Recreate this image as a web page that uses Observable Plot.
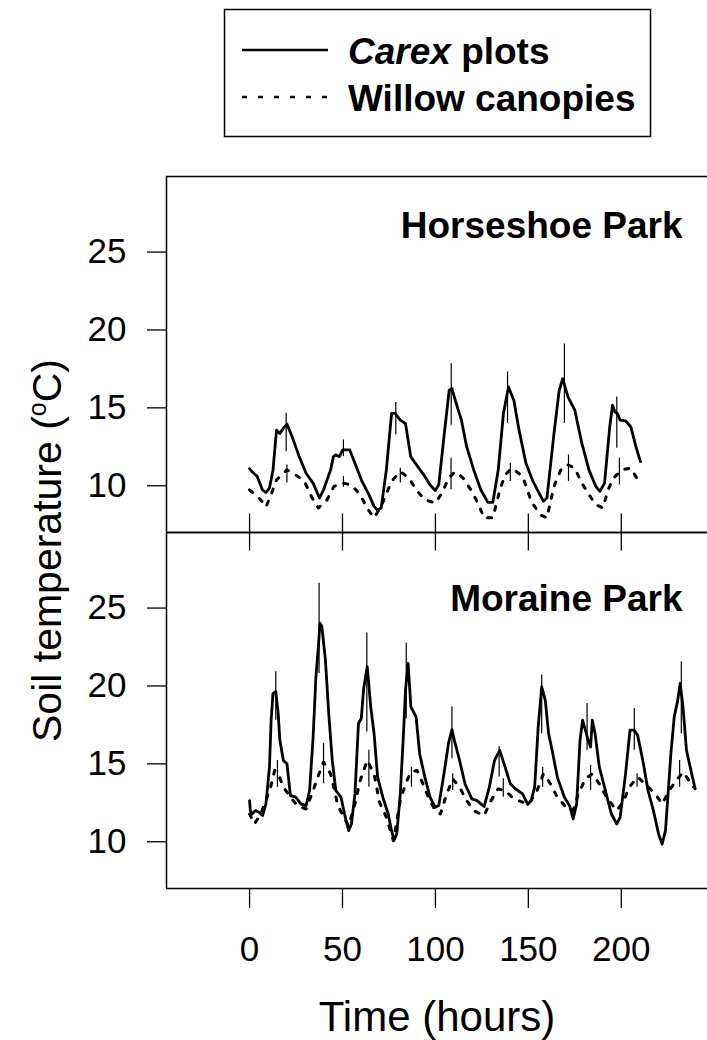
<!DOCTYPE html>
<html><head><meta charset="utf-8">
<script src="https://cdn.jsdelivr.net/npm/d3@7"></script>
<script src="https://cdn.jsdelivr.net/npm/@observablehq/plot@0.6"></script>
<style>
html,body{margin:0;padding:0;background:#fff;overflow:hidden}
svg{display:block}
</style></head><body>
<div id="legend"></div>
<div id="chart"></div>
<script>
const parks = ["Horseshoe Park", "Moraine Park"];
const seriesNames = ["Carex plots", "Willow canopies"];
const xTicks = [0, 50, 100, 150, 200];
const yTicks = [10, 15, 20, 25];
const xDomain = [-44.7, 246.4];
const yDomain = [7, 29.85];
const xLabel = "Time (hours)";
const yLabel = "Soil temperature (oC)";

// [hour, °C]
const horseshoeCarex = [[0,11.1],[1.3,10.9],[4.1,10.6],[6.9,9.74],[8.8,9.57],[10.7,9.85],[12.6,11.0],[14.5,13.57],[16.3,13.36],[18.2,13.7],[20.1,13.96],[22.9,13.15],[26.7,11.87],[30.4,10.8],[34.2,10.17],[37.6,9.21],[39.8,9.74],[43.6,11.02],[45.1,11.87],[46.4,11.98],[48.3,11.87],[50.1,12.3],[53.9,12.3],[56.7,11.45],[60.5,10.28],[64.2,9.43],[67.0,8.68],[68.9,8.43],[70.8,8.57],[73.6,11.02],[76.4,14.64],[78.3,14.64],[81.1,14.21],[83.9,14.0],[86.7,11.87],[90.5,11.23],[94.3,10.6],[97.1,10.06],[99.9,9.7],[101.8,10.06],[104.6,13.15],[107.4,16.13],[108.9,16.23],[111.2,15.28],[114.0,14.21],[116.8,12.51],[120.6,11.02],[124.4,9.74],[128.2,8.94],[130.9,8.94],[133.8,11.02],[136.6,14.64],[139.3,16.34],[142.2,15.49],[145.0,13.57],[148.7,11.45],[152.5,10.28],[155.3,9.64],[158.1,9.0],[160.0,9.21],[163.8,13.36],[166.6,16.13],[168.5,16.87],[171.3,15.7],[175.0,14.85],[178.8,12.72],[182.6,11.02],[186.3,9.96],[188.5,9.64],[191.0,10.17],[193.8,13.79],[195.3,15.17],[196.6,14.74],[197.9,14.64],[199.4,14.21],[202.3,14.17],[205.1,13.79],[207.9,12.51],[210.3,11.55]];
const horseshoeWillow = [[0,9.74],[6,9.1],[8.8,8.64],[11.6,9.43],[14.5,10.38],[20.1,11.02],[24.8,10.7],[29.5,10.28],[33.2,9.32],[37.0,8.57],[41.7,9.1],[45.4,9.96],[50.1,10.17],[54.8,10.06],[59.5,9.43],[63.2,8.57],[67.0,7.94],[70.8,8.68],[76.4,10.28],[81.1,10.91],[85.8,10.49],[89.6,9.74],[94.3,9.1],[99.9,8.89],[103.6,9.53],[107.0,10.49],[110.8,10.91],[114.9,10.49],[119.6,9.64],[122.8,8.89],[126.2,7.94],[130.9,7.94],[134.7,9.74],[137.5,10.7],[141.2,11.13],[146.9,10.6],[151.6,9.0],[156.3,8.15],[160.0,7.94],[163.8,9.96],[167.5,11.02],[171.3,11.34],[175.0,11.13],[178.8,10.17],[182.6,9.43],[186.3,8.79],[190.1,8.57],[192.9,9.74],[195.7,10.49],[200.4,11.02],[205.1,11.13],[208.9,10.38]];
const moraineCarex = [[0,12.64],[0.4,12.0],[1.3,11.78],[3.2,12.0],[5.1,11.89],[7.0,11.68],[8.8,12.43],[10.7,14.79],[11.6,17.8],[12.6,19.52],[14.1,19.63],[15.4,18.23],[16.3,16.51],[18.2,15.22],[20.1,15.01],[22.0,12.96],[24.8,12.86],[27.6,12.43],[30.4,12.32],[32.3,13.29],[34.2,16.73],[35.7,20.59],[37.0,22.53],[37.9,24.03],[38.9,23.82],[40.8,21.67],[42.6,18.23],[44.5,15.22],[46.4,13.29],[49.2,12.86],[51.1,11.78],[53.3,10.71],[54.8,11.14],[56.7,13.07],[58.6,17.59],[60.1,17.91],[61.4,19.84],[63.3,21.24],[65.2,18.66],[67.0,16.94],[68.9,14.15],[71.7,12.86],[74.6,11.78],[76.4,10.71],[77.7,10.1],[79.2,10.49],[81.1,13.07],[83.0,17.37],[83.9,19.73],[85.3,21.45],[86.8,18.66],[89.6,18.02],[91.5,15.65],[94.3,14.15],[97.1,12.86],[99.9,12.21],[101.8,12.32],[104.6,14.36],[107.0,16.3],[108.9,17.2],[110.2,16.51],[113.0,15.22],[115.9,13.72],[119.6,12.75],[122.4,12.64],[126.2,12.26],[129.0,13.5],[131.8,15.22],[134.6,15.87],[137.5,14.79],[140.3,13.72],[143.1,13.39],[146.9,13.07],[149.7,12.4],[151.5,12.64],[153.4,13.5],[155.3,17.37],[157.2,19.95],[159.1,19.09],[160.9,16.94],[162.8,15.87],[165.6,14.15],[169.4,12.86],[172.2,12.32],[174.1,11.46],[176.0,12.43],[177.8,16.51],[179.2,17.8],[180.7,17.16],[182.2,16.51],[183.5,16.08],[184.4,17.8],[185.9,16.94],[188.2,14.79],[191.0,13.5],[194.7,11.78],[197.6,11.14],[199.4,11.57],[202.3,14.36],[204.7,17.16],[207.0,17.16],[208.8,16.83],[211.6,15.22],[214.4,13.29],[217.3,12.0],[220.1,10.49],[222.0,9.85],[223.8,10.71],[226.7,15.65],[228.5,18.02],[230.4,19.09],[231.7,20.16],[233.2,18.66],[235.1,15.87],[237.9,14.36],[239.8,13.39]];
const moraineWillow = [[0,11.78],[2.6,11.14],[6.0,11.78],[8.8,12.64],[11.3,13.5],[13.5,14.58],[15.4,14.36],[18.2,13.5],[22.0,12.86],[25.7,12.32],[30.4,12.1],[34.2,13.29],[37.0,14.25],[39.8,15.11],[43.6,14.36],[47.3,12.43],[50.1,11.68],[53.3,11.03],[56.7,12.43],[59.5,13.93],[63.3,15.22],[67.0,14.36],[69.9,12.54],[73.6,11.57],[77.4,10.06],[81.1,12.64],[83.9,13.72],[86.8,14.47],[90.1,14.58],[93.3,13.72],[96.2,12.86],[99.9,12.0],[102.7,11.78],[105.5,12.86],[109.3,14.04],[113.0,13.5],[116.8,12.64],[120.6,12.0],[126.2,11.68],[129.9,12.64],[133.7,13.39],[137.5,13.29],[142.2,12.75],[146.9,12.54],[150.2,12.43],[154.4,13.18],[158.1,14.36],[161.9,13.72],[165.6,12.86],[170.3,12.21],[174.1,12.0],[176.9,13.07],[180.7,14.04],[184.4,14.36],[188.2,13.72],[192.0,12.86],[197.6,12.0],[201.4,12.64],[204.2,13.5],[208.9,14.15],[212.7,13.72],[218.3,13.07],[222.0,12.43],[225.8,13.29],[229.6,13.93],[233.3,14.47],[239.0,13.5]];

// error bars: [hour, low, high]
const horseshoeCarexErr = [[19.7,12.19,14.66],[50.5,11.87,12.94],[78.7,13.26,15.34],[108.5,13.89,17.83],[138.8,14.0,17.3],[169.4,14.0,19.1],[197.6,12.4,15.7]];
const horseshoeWillowErr = [[20.1,10.17,11.34],[50.5,9.9,10.6],[81.1,10.17,11.13],[108.4,9.74,11.77],[140.3,10.28,11.45],[171.6,10.28,11.98],[199.0,10.06,11.77]];
const moraineCarexErr = [[14.1,17.8,20.92],[37.4,20.8,26.6],[63.1,17.05,23.4],[84.3,17.9,22.74],[108.9,15.33,18.66],[134.3,14.15,16.1],[157.2,16.94,20.7],[181.6,15.87,18.87],[207.0,15.87,18.55],[232.3,16.94,21.56]];
const moraineWillowErr = [[15.0,13.5,15.22],[39.8,13.72,16.3],[64.2,13.5,15.87],[87.1,13.5,14.79],[109.3,13.29,14.36],[136.5,12.86,14.04],[157.7,13.5,14.79],[183.5,13.29,14.9],[208.5,13.5,14.36],[231.4,13.5,15.22]];

const rows = (pairs, park, series) => pairs.map(([hour, temp]) => ({park, series, hour, temp}));
const errRows = (list, park) => list.map(([hour, lo, hi]) => ({park, hour, lo, hi}));

const carexRows = [...rows(horseshoeCarex, parks[0], seriesNames[0]), ...rows(moraineCarex, parks[1], seriesNames[0])];
const willowRows = [...rows(horseshoeWillow, parks[0], seriesNames[1]), ...rows(moraineWillow, parks[1], seriesNames[1])];
const errs = [...errRows(horseshoeCarexErr, parks[0]), ...errRows(horseshoeWillowErr, parks[0]),
              ...errRows(moraineCarexErr, parks[1]), ...errRows(moraineWillowErr, parks[1])];

const FONT = "'Liberation Sans', Arial, Helvetica, sans-serif";
const W = 707, H = 890, mT = 25, mB = 152, mL = 166;
const facetH = (H - mT - mB) / 2;

// Legend (HTML block above the SVG)
const leg = d3.select("#legend").append("svg").attr("width", W).attr("height", 150)
  .style("font-family", FONT);
leg.append("rect").attr("x", 224.5).attr("y", 9.5).attr("width", 426).attr("height", 127)
  .attr("fill", "none").attr("stroke", "#000").attr("stroke-width", 1.5);
const legItems = [{name: seriesNames[0], dash: null, y: 50}, {name: seriesNames[1], dash: "5,11", y: 97}];
legItems.forEach((it, i) => {
  leg.append("line").attr("x1", 242).attr("x2", 328).attr("y1", it.y).attr("y2", it.y)
    .attr("stroke", "#000").attr("stroke-width", i === 0 ? 2.5 : 2.5)
    .attr("stroke-dasharray", it.dash);
  const t = leg.append("text").attr("x", 348).attr("y", it.y + 13.5)
    .attr("font-size", 37).attr("font-weight", "bold");
  if (i === 0) {
    const [a, b] = it.name.split(" ");
    t.append("tspan").attr("font-style", "italic").text(a);
    t.append("tspan").text(" " + b);
  } else t.text(it.name);
});

const chart = Plot.plot({
  width: W, height: H,
  marginLeft: mL, marginRight: 0, marginTop: mT, marginBottom: mB,
  style: {fontFamily: FONT, color: "#000", background: "#fff", overflow: "visible"},
  x: {domain: xDomain},
  y: {domain: yDomain},
  fy: {domain: parks, padding: 0, axis: null},
  marks: [
    Plot.ruleY(yDomain, {stroke: "#000", strokeWidth: 1.5}),
    Plot.ruleX([xDomain[0]], {stroke: "#000", strokeWidth: 1.5}),
    Plot.axisY({ticks: yTicks, tickSize: 19, tickPadding: 21, fontSize: 35, label: null, strokeWidth: 1.3}),
    Plot.axisX({ticks: xTicks, tickSize: 20, tickPadding: 28, fontSize: 35, label: null, strokeWidth: 1.3}),
    Plot.tickX(xTicks.map(x => ({x, park: parks[0]})), {x: "x", fy: "park", insetTop: facetH - 19, stroke: "#000", strokeWidth: 1.3}),
    Plot.tickX(xTicks.map(x => ({x, park: parks[1]})), {x: "x", fy: "park", insetBottom: facetH - 19, stroke: "#000", strokeWidth: 1.3}),
    Plot.ruleX(errs, {x: "hour", y1: "lo", y2: "hi", fy: "park", stroke: "#000", strokeWidth: 1.2}),
    Plot.line(willowRows, {x: "hour", y: "temp", fy: "park", z: "park", stroke: "#000", strokeWidth: 3, strokeDasharray: "4,9"}),
    Plot.line(carexRows, {x: "hour", y: "temp", fy: "park", z: "park", stroke: "#000", strokeWidth: 2.8, strokeLinejoin: "round"}),
    Plot.text([{park: parks[0]}], {fy: "park", text: "park", frameAnchor: "top-right", dx: -25, dy: 61.6, lineAnchor: "bottom", textAnchor: "end", fontSize: 37, fontWeight: "bold", fill: "#000"}),
    Plot.text([{park: parks[1]}], {fy: "park", text: "park", frameAnchor: "top-right", dx: -25, dy: 78, lineAnchor: "bottom", textAnchor: "end", fontSize: 37, fontWeight: "bold", fill: "#000"}),
    Plot.text([{park: parks[1], label: xLabel}], {fy: "park", text: "label", frameAnchor: "bottom", dy: 142, lineAnchor: "bottom", textAnchor: "middle", fontSize: 42, fill: "#000"}),
    Plot.text([{park: parks[1], label: yLabel}], {fy: "park", text: "label", frameAnchor: "top-left", dx: -119, dy: 18, rotate: -90, lineAnchor: "middle", textAnchor: "middle", fontSize: 41, fill: "#000"})
  ]
});
document.getElementById("chart").appendChild(chart);

// superscript "o" in the y label
d3.select(chart).selectAll("text").filter(function () { return this.textContent === yLabel; })
  .each(function () {
    const el = d3.select(this);
    el.text(null);
    el.append("tspan").text("Soil temperature (");
    el.append("tspan").attr("font-size", "25px").attr("dy", "-15px").text("o");
    el.append("tspan").attr("dy", "15px").text("C)");
  });
</script>
</body></html>
